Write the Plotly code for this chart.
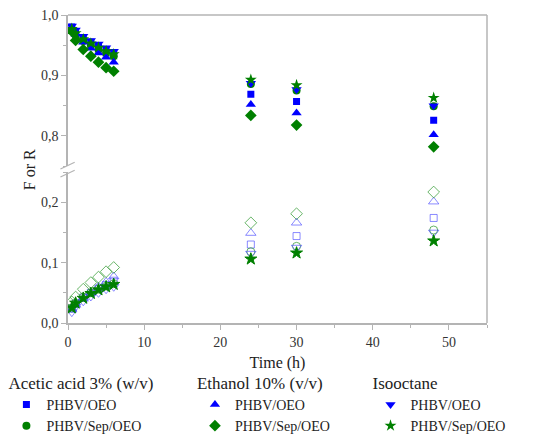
import plotly.graph_objects as go

time_h = [0.5, 1, 2, 3, 4, 5, 6, 24, 30, 48]

# F values (upper panel, filled markers)
F_acetic_oeo     = [0.980, 0.972, 0.962, 0.955, 0.948, 0.942, 0.936, 0.869, 0.857, 0.826]
F_acetic_sep     = [0.975, 0.967, 0.957, 0.950, 0.943, 0.937, 0.932, 0.886, 0.875, 0.849]
F_ethanol_oeo    = [0.978, 0.968, 0.955, 0.945, 0.937, 0.930, 0.922, 0.852, 0.838, 0.802]
F_ethanol_sep    = [0.973, 0.958, 0.943, 0.932, 0.922, 0.913, 0.907, 0.834, 0.818, 0.782]
F_isooctane_oeo  = [0.982, 0.975, 0.965, 0.958, 0.952, 0.946, 0.940, 0.887, 0.877, 0.850]
F_isooctane_sep  = [0.977, 0.970, 0.960, 0.953, 0.946, 0.940, 0.935, 0.893, 0.884, 0.863]

# R values (lower panel, open markers)
R_acetic_oeo     = [0.024, 0.032, 0.042, 0.050, 0.057, 0.063, 0.070, 0.130, 0.144, 0.174]
R_acetic_sep     = [0.025, 0.033, 0.043, 0.050, 0.056, 0.061, 0.065, 0.118, 0.127, 0.154]
R_ethanol_oeo    = [0.022, 0.030, 0.040, 0.050, 0.060, 0.068, 0.077, 0.149, 0.166, 0.201]
R_ethanol_sep    = [0.035, 0.043, 0.056, 0.067, 0.076, 0.085, 0.092, 0.166, 0.181, 0.217]
R_isooctane_oeo  = [0.018, 0.027, 0.036, 0.044, 0.050, 0.056, 0.060, 0.115, 0.125, 0.150]
R_isooctane_sep  = [0.025, 0.033, 0.041, 0.049, 0.055, 0.060, 0.064, 0.106, 0.116, 0.136]

legend_titles = ["Acetic acid 3% (w/v)", "Ethanol 10% (v/v)", "Isooctane"]
series_names = ["PHBV/OEO", "PHBV/Sep/OEO"]

BLUE = "#0000ff"
GREEN = "#008000"
BLUE_L = "rgba(60,60,255,0.6)"
GREEN_L = "rgba(40,150,40,0.7)"
FONT = "Liberation Serif"

series = [
    (F_acetic_oeo, R_acetic_oeo, "square", "square-open", BLUE, BLUE_L, 7, "legend", 0),
    (F_acetic_sep, R_acetic_sep, "circle", "circle-open", GREEN, GREEN_L, 8, "legend", 1),
    (F_ethanol_oeo, R_ethanol_oeo, "triangle-up", "triangle-up-open", BLUE, BLUE_L, 9, "legend2", 0),
    (F_ethanol_sep, R_ethanol_sep, "diamond", "diamond-open", GREEN, GREEN_L, 9, "legend2", 1),
    (F_isooctane_oeo, R_isooctane_oeo, "triangle-down", "triangle-down-open", BLUE, BLUE_L, 9, "legend3", 0),
    (F_isooctane_sep, R_isooctane_sep, "star", "star", GREEN, GREEN, 9, "legend3", 1),
]

fig = go.Figure()
for F, R, sym, sym_open, col, col_l, size, leg, idx in series:
    fig.add_trace(go.Scatter(
        x=time_h, y=F, mode="markers", name=series_names[idx], legend=leg,
        marker=dict(symbol=sym, color=col, size=size, line=dict(width=0)),
        xaxis="x2", yaxis="y2", showlegend=True))
    fig.add_trace(go.Scatter(
        x=time_h, y=R, mode="markers", name=series_names[idx], legend=leg,
        marker=dict(symbol=sym_open, color=col_l, size=size,
                    line=dict(width=1, color=col_l)),
        xaxis="x", yaxis="y", showlegend=False))

AX = "#b4b4b4"
tickfont = dict(family=FONT, size=14, color="#333333")
titlefont = dict(family=FONT, size=16, color="#222222")

fig.update_layout(
    width=545, height=434,
    margin=dict(l=68, r=58, t=15, b=111, autoexpand=False),
    paper_bgcolor="white", plot_bgcolor="white",
    separators=",.",
    font=dict(family=FONT, size=14, color="#222222"),
    xaxis=dict(domain=[0, 1], range=[0, 55], anchor="y",
               tickmode="array", tickvals=[0, 10, 20, 30, 40, 50],
               showline=True, linecolor=AX, linewidth=1.5,
               ticks="outside", ticklen=5, tickcolor=AX, tickwidth=1,
               minor=dict(dtick=5, ticks="outside", ticklen=3, tickcolor=AX),
               showgrid=False, zeroline=False, tickfont=tickfont,
               title=dict(text="Time (h)", font=titlefont, standoff=8)),
    xaxis2=dict(domain=[0, 1], range=[0, 55], anchor="y2", matches="x",
                showticklabels=False, showline=False, ticks="",
                showgrid=False, zeroline=False),
    yaxis=dict(domain=[0, 0.49], range=[0, 0.25], anchor="x",
               tickvals=[0, 0.1, 0.2], tickformat=".1f",
               showline=True, linecolor=AX, linewidth=1.5,
               ticks="outside", ticklen=5, tickcolor=AX,
               minor=dict(dtick=0.05, ticks="outside", ticklen=3, tickcolor=AX),
               showgrid=False, zeroline=False, tickfont=tickfont),
    yaxis2=dict(domain=[0.509, 1], range=[0.75, 1.0], anchor="x2",
                tickvals=[0.8, 0.9, 1.0], tickformat=".1f",
                showline=True, linecolor=AX, linewidth=1.5,
                ticks="outside", ticklen=5, tickcolor=AX,
                minor=dict(dtick=0.05, ticks="outside", ticklen=3, tickcolor=AX),
                showgrid=False, zeroline=False, tickfont=tickfont),
    shapes=[
        dict(type="line", xref="paper", yref="paper", x0=0, x1=1, y0=1, y1=1,
             line=dict(color=AX, width=1.5)),
        dict(type="line", xref="paper", yref="paper", x0=1, x1=1, y0=0, y1=1,
             line=dict(color=AX, width=1.5)),
        dict(type="line", xref="paper", yref="paper", x0=-0.018, x1=0.016,
             y0=0.5, y1=0.522, line=dict(color=AX, width=1.2)),
        dict(type="line", xref="paper", yref="paper", x0=-0.018, x1=0.016,
             y0=0.474, y1=0.496, line=dict(color=AX, width=1.2)),
    ],
    annotations=[
        dict(text="F or R", xref="paper", yref="paper", x=-0.115, y=0.497,
             textangle=-90, showarrow=False, font=titlefont),
    ],
)

leg_common = dict(orientation="v", xanchor="left", yanchor="top",
                  bgcolor="rgba(0,0,0,0)", borderwidth=0,
                  font=dict(family=FONT, size=14, color="#222222"),
                  tracegroupgap=0)
fig.update_layout(
    legend=dict(x=-0.147, y=-0.142, title=dict(text=legend_titles[0]), **leg_common),
    legend2=dict(x=0.303, y=-0.142, title=dict(text=legend_titles[1]), **leg_common),
    legend3=dict(x=0.722, y=-0.142, title=dict(text=legend_titles[2]), **leg_common),
)

fig.write_html("out.html")
